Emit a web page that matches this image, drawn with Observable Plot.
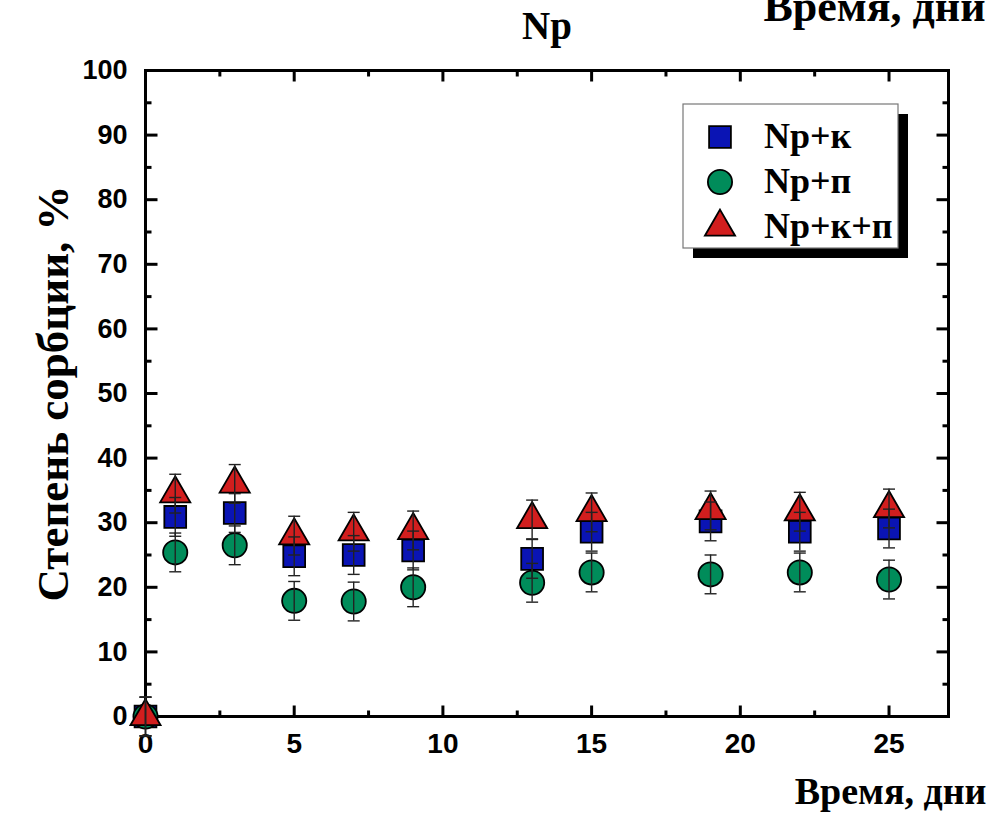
<!DOCTYPE html>
<html><head><meta charset="utf-8">
<script src="https://cdn.jsdelivr.net/npm/d3@7"></script>
<script src="https://cdn.jsdelivr.net/npm/@observablehq/plot@0.6"></script>
<style>body{margin:0;background:#fff;overflow:hidden}</style>
</head><body><div id="chart"></div>
<script>
// ---- data ----
const days = [0, 1, 3, 5, 7, 9, 13, 15, 19, 22, 25];
const npK  = [0, 30.9, 31.5, 24.8, 25.0, 25.7, 24.4, 28.6, 30.2, 28.6, 29.1];
const npP  = [0, 25.4, 26.5, 17.9, 17.8, 20.0, 20.7, 22.3, 22.0, 22.3, 21.2];
const npKP = [0, 34.5, 36.0, 28.0, 28.6, 28.8, 30.5, 31.6, 31.9, 31.7, 32.2];
const errK  = [3, 3, 3, 3, 3, 3, 3, 3, 3, 3, 3];
const errP  = [3, 3, 3, 3, 3, 3, 3, 3, 3, 3, 3];
const errKP = [3, 3, 3, 3, 3, 3, 3, 3, 3, 3, 3];
const seriesNames = ["Np+к", "Np+п", "Np+к+п"];
const xMajor = [0, 5, 10, 15, 20, 25];
const xMinor = [2.5, 7.5, 12.5, 17.5, 22.5];
const yMajor = [0, 10, 20, 30, 40, 50, 60, 70, 80, 90, 100];
const yMinor = [5, 15, 25, 35, 45, 55, 65, 75, 85, 95];
const titleText = "Np";
const xTitle = "Время, дни";
const yTitle = "Степень сорбции, %";

// ---- styles ----
const colors = ["#0a14b4", "#008c5a", "#d21e1e"];
const symbols = ["square", "circle", "triangle"];
const radii = [12.3, 12.1, 11.2];
const d3Symbols = [d3.symbolSquare, d3.symbolCircle, d3.symbolTriangle];

const valuesBySeries = [npK, npP, npKP];
const errBySeries = [errK, errP, errKP];
const rows = [];
seriesNames.forEach((s, i) => days.forEach((d, j) => rows.push({series: s, si: i, day: d, value: valuesBySeries[i][j], err: errBySeries[i][j]})));

const mk = (fn) => ({draw(ctx, size) { const l = Math.sqrt(size / Math.PI); fn(ctx, l); }});
const tickUp = mk((c, l) => { c.moveTo(0, 0); c.lineTo(0, -l); });
const tickDown = mk((c, l) => { c.moveTo(0, 0); c.lineTo(0, l); });
const tickRight = mk((c, l) => { c.moveTo(0, 0); c.lineTo(l, 0); });
const tickLeft = mk((c, l) => { c.moveTo(0, 0); c.lineTo(-l, 0); });
const capH = mk((c, l) => { c.moveTo(-l, 0); c.lineTo(l, 0); });

const tickStyle = {fill: "none", stroke: "black", strokeWidth: 3};
const serif = "'Liberation Serif', 'Times New Roman', serif";
const sans = "'Liberation Sans', Arial, sans-serif";

const markerMarks = seriesNames.map((s, i) => Plot.dot(rows.filter(r => r.si === i), {
  x: "day", y: "value", symbol: symbols[i], r: radii[i], fill: colors[i], stroke: "black", strokeWidth: 1.8
}));

const chart = Plot.plot({
  width: 1007, height: 813,
  marginLeft: 145, marginRight: 59, marginTop: 70, marginBottom: 97,
  style: {fontFamily: sans, background: "white", overflow: "visible"},
  x: {domain: [0, 27]},
  y: {domain: [0, 100]},
  marks: [
    Plot.axisY({ticks: yMajor, tickSize: 0, tickPadding: 18, fontSize: 27, fontWeight: "bold", fontFamily: sans, label: null}),
    Plot.axisX({ticks: xMajor, tickSize: 0, tickPadding: 17, fontSize: 28, fontWeight: "bold", fontFamily: sans, label: null}),
    // inward ticks
    Plot.dot(xMajor, {x: d => d, y: 0, symbol: tickUp, r: 11, ...tickStyle}),
    Plot.dot(xMinor, {x: d => d, y: 0, symbol: tickUp, r: 6, ...tickStyle}),
    Plot.dot(xMajor, {x: d => d, y: 100, symbol: tickDown, r: 11, ...tickStyle}),
    Plot.dot(xMinor, {x: d => d, y: 100, symbol: tickDown, r: 6, ...tickStyle}),
    Plot.dot(yMajor, {y: d => d, x: 0, symbol: tickRight, r: 12, ...tickStyle}),
    Plot.dot(yMinor, {y: d => d, x: 0, symbol: tickRight, r: 6, ...tickStyle}),
    Plot.dot(yMajor, {y: d => d, x: 27, symbol: tickLeft, r: 12, ...tickStyle}),
    Plot.dot(yMinor, {y: d => d, x: 27, symbol: tickLeft, r: 6, ...tickStyle}),
    Plot.frame({stroke: "black", strokeWidth: 3}),
    ...markerMarks,
    // error bars
    Plot.ruleX(rows, {x: "day", y1: d => d.value - d.err, y2: d => d.value + d.err, stroke: "#222", strokeWidth: 1.4}),
    Plot.dot(rows, {x: "day", y: d => d.value + d.err, symbol: capH, r: 6, fill: "none", stroke: "#222", strokeWidth: 1.4}),
    Plot.dot(rows, {x: "day", y: d => d.value - d.err, symbol: capH, r: 6, fill: "none", stroke: "#222", strokeWidth: 1.4}),
    // titles
    Plot.text([titleText], {frameAnchor: "top", dy: -32, lineAnchor: "bottom", fontSize: 39, fontWeight: "bold", fontFamily: serif, fill: "black"}),
    Plot.text([xTitle], {frameAnchor: "top-right", dx: 37, dy: -50, lineAnchor: "bottom", textAnchor: "end", fontSize: 44, fontWeight: "bold", fontFamily: serif, fill: "black"}),
    Plot.text([xTitle], {frameAnchor: "bottom-right", dx: 38, dy: 87, lineAnchor: "bottom", textAnchor: "end", fontSize: 38, fontWeight: "bold", fontFamily: serif, fill: "black"}),
    Plot.text([yTitle], {frameAnchor: "left", dx: -92, rotate: -90, lineAnchor: "middle", textAnchor: "middle", fontSize: 45, fontWeight: "bold", fontFamily: serif, fill: "black"})
  ]
});

const svg = d3.select(chart);
svg.selectAll("g[aria-label$='tick label'] text").attr("font-weight", "bold");

// legend inside the plot area
const lg = svg.append("g").attr("class", "legend");
const lx = 683, ly = 104, lw = 215, lh = 144;
lg.append("rect").attr("x", lx + 10).attr("y", ly + 10).attr("width", lw).attr("height", lh).attr("fill", "black");
lg.append("rect").attr("x", lx).attr("y", ly).attr("width", lw).attr("height", lh).attr("fill", "white").attr("stroke", "#777").attr("stroke-width", 1.2);
seriesNames.forEach((s, i) => {
  const cy = 137 + i * 45;
  lg.append("path")
    .attr("d", d3.symbol().type(d3Symbols[i]).size(Math.PI * radii[i] * radii[i])())
    .attr("transform", `translate(720,${cy})`)
    .attr("fill", colors[i]).attr("stroke", "black").attr("stroke-width", 1.8);
  lg.append("text").attr("x", 764).attr("y", cy + 11)
    .attr("text-anchor", "start")
    .attr("font-family", serif).attr("font-weight", "bold").attr("font-size", 36)
    .text(s);
});

document.getElementById("chart").appendChild(chart);
</script>
</body></html>
